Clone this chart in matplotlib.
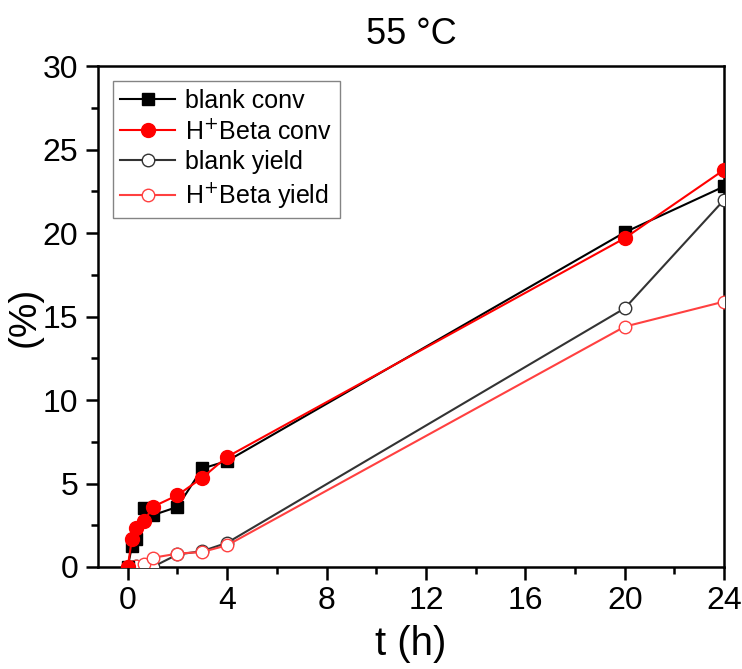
import matplotlib.pyplot as plt
from matplotlib.ticker import MultipleLocator

plt.rcParams['font.family'] = ['Liberation Sans', 'DejaVu Sans']

# reaction time (h)
t = [0, 0.167, 0.333, 0.667, 1, 2, 3, 4, 20, 24]

blank_conv = [0, 1.25, 1.65, 3.55, 3.1, 3.6, 5.9, 6.35, 20.05, 22.8]
beta_conv = [0, 1.7, 2.35, 2.75, 3.6, 4.3, 5.35, 6.6, 19.7, 23.8]
blank_yield = [0, 0, 0.05, 0, 0, 0.75, 0.95, 1.45, 15.5, 22.0]
beta_yield = [0, 0, 0.05, 0.2, 0.55, 0.8, 0.9, 1.3, 14.4, 15.9]

fig = plt.figure(figsize=(7.42, 6.69), dpi=100)
ax = fig.add_axes([0.132, 0.1525, 0.844, 0.7485])

ax.plot(t, blank_conv, color='black', lw=1.5, marker='s', ms=9,
        mfc='black', mec='black', label='blank conv', zorder=4)
ax.plot(t, beta_conv, color='red', lw=1.5, marker='o', ms=10,
        mfc='red', mec='red', label='H$^{+}$Beta conv', zorder=5)
ax.plot(t, blank_yield, color='#333333', lw=1.5, marker='o', ms=9,
        mfc='white', mec='#333333', label='blank yield', zorder=3)
ax.plot(t, beta_yield, color='#ff4040', lw=1.5, marker='o', ms=9,
        mfc='white', mec='#ff4040', label='H$^{+}$Beta yield', zorder=3)

ax.set_xlim(-1.2, 24)
ax.set_ylim(0, 30)
ax.xaxis.set_major_locator(MultipleLocator(4))
ax.xaxis.set_minor_locator(MultipleLocator(2))
ax.yaxis.set_major_locator(MultipleLocator(5))
ax.yaxis.set_minor_locator(MultipleLocator(2.5))
ax.tick_params(which='major', direction='out', length=9, width=1.8,
               labelsize=23, pad=5, top=False, right=False)
ax.tick_params(which='minor', direction='out', length=5, width=1.8,
               top=False, right=False)
for s in ax.spines.values():
    s.set_linewidth(1.8)

ax.set_xlabel('t (h)', fontsize=29, labelpad=6)
ax.set_ylabel('(%)', fontsize=28, labelpad=0)
ax.set_title('55 °C', fontsize=26, pad=16)

leg = ax.legend(loc='upper left', fontsize=18, frameon=True, fancybox=False,
                edgecolor='#666666', handlelength=2.2, borderpad=0.3,
                labelspacing=0.25, handletextpad=0.4, borderaxespad=0.6)
leg.get_frame().set_linewidth(1.0)

fig.savefig('out.png', dpi=100)
